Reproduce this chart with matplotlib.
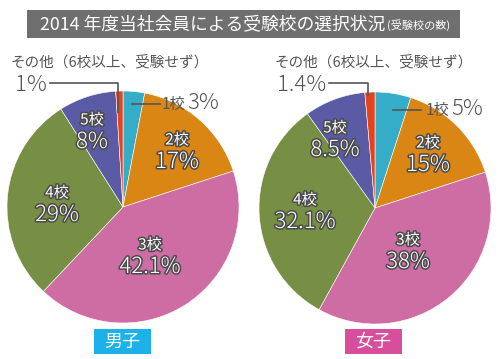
"""2014 年度 受験校の選択状況 — 男子 / 女子 の円グラフ."""

import matplotlib
matplotlib.use("Agg")
import matplotlib.pyplot as plt
import matplotlib.patheffects as pe
from matplotlib.patches import Rectangle

plt.rcParams["font.family"] = ["Noto Sans CJK JP", "DejaVu Sans"]

# data
categories = ["1校", "2校", "3校", "4校", "5校", "その他"]
male = [3, 17, 42.1, 29, 8, 1]
female = [5, 15, 38, 32.1, 8.5, 1.4]
male_pct = ["3%", "17%", "42.1%", "29%", "8%", "1%"]
female_pct = ["5%", "15%", "38%", "32.1%", "8.5%", "1.4%"]
colors = ["#35adc8", "#d98614", "#cd6da3", "#768f44", "#5b5ba5", "#e3441e"]

W, H = 500, 359
R = 116


def Y(y):
    # pixel row (top = 0) -> data y (bottom = 0)
    return H - y


outline = [pe.withStroke(linewidth=2.2, foreground="#4a4a4a")]


def draw_pie(ax, cx, cy, values, pcts, inner_pos, small_pos, other_pos, line_small, line_other):
    ax.pie(values, colors=colors, startangle=90, counterclock=False,
           center=(cx, Y(cy)), radius=R,
           wedgeprops={"edgecolor": "white", "linewidth": 0.4})
    # inside labels for 2校..5校
    for i, (x, y) in zip([1, 2, 3, 4], inner_pos):
        ax.text(x, Y(y - 11), categories[i], ha="center", va="center",
                fontsize=11, color="white", path_effects=outline)
        ax.text(x, Y(y + 11), pcts[i], ha="center", va="center",
                fontsize=16, fontweight="light", color="white", path_effects=outline)
    # 1校 label with leader line
    sx, sy = small_pos
    ax.plot(line_small[0], [Y(v) for v in line_small[1]], color="#555555", lw=1.2)
    ax.text(sx + 2, Y(sy), categories[0], ha="left", va="center",
            fontsize=11, color="#555555")
    ax.text(sx + 27, Y(sy - 1), pcts[0], ha="left", va="center",
            fontsize=16, fontweight="light", color="#555555")
    # その他 label
    ox, oy = other_pos
    ax.text(ox, Y(oy), "その他（6校以上、受験せず）", ha="left", va="center",
            fontsize=10.5, color="#555555")
    ax.plot(line_other[0], [Y(v) for v in line_other[1]], color="#555555", lw=1.2)
    ax.text(line_other[0][0] - 3, Y(oy + 23), pcts[5], ha="right", va="center",
            fontsize=16, fontweight="light", color="#555555")


fig = plt.figure(figsize=(5, 3.59), dpi=100)
ax = fig.add_axes([0, 0, 1, 1])

# title bar
ax.add_patch(Rectangle((27, Y(38)), 433, 28, facecolor="#6f6f6f", edgecolor="none"))
title = ax.text(40, Y(24), "2014 年度当社会員による受験校の選択状況", ha="left", va="center",
                fontsize=12.8, color="white")
ax.annotate("(受験校の数)", xy=(1, 0.5), xycoords=title, xytext=(1, -1),
            textcoords="offset points", ha="left", va="center",
            fontsize=8, color="white")

draw_pie(ax, 123, 207, male, male_pct,
         inner_pos=[(177, 151), (150, 256), (57, 204), (92, 131)],
         small_pos=(160, 104),
         other_pos=(11, 62),
         line_small=([132, 160], [104, 104]),
         line_other=([50, 118, 118], [83, 83, 112]))
draw_pie(ax, 375, 208, female, female_pct,
         inner_pos=[(428, 154), (408, 251), (305, 211), (335, 139)],
         small_pos=(424, 110),
         other_pos=(275, 62),
         line_small=([393, 421], [110, 110]),
         line_other=([329, 368, 368], [83, 83, 95]))

# group labels
ax.add_patch(Rectangle((94, Y(354)), 57, 25, facecolor="#1cb1e8", edgecolor="none"))
ax.text(122.5, Y(341.5), "男子", ha="center", va="center", fontsize=13, color="white")
ax.add_patch(Rectangle((345, Y(354)), 57, 25, facecolor="#d64e9c", edgecolor="none"))
ax.text(373.5, Y(341.5), "女子", ha="center", va="center", fontsize=13, color="white")

ax.set_xlim(0, W)
ax.set_ylim(0, H)
ax.set_aspect("auto")
ax.axis("off")

fig.savefig("out.png", dpi=100)
